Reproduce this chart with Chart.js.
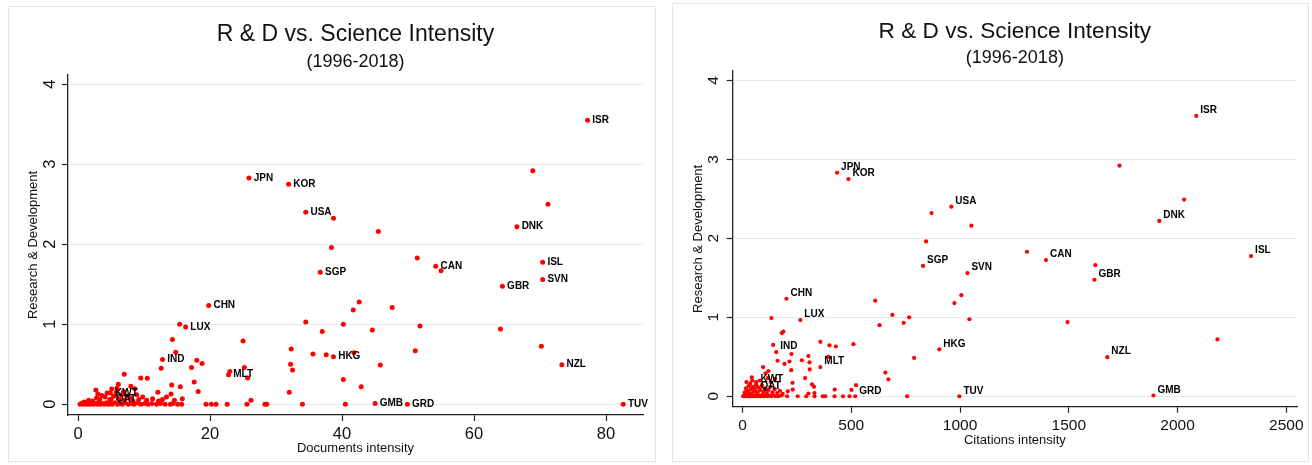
<!DOCTYPE html>
<html>
<head>
<meta charset="utf-8">
<script src="https://cdn.jsdelivr.net/npm/chart.js@4.4.0/dist/chart.umd.min.js"></script>
<style>
  html, body { margin: 0; padding: 0; background: #fff; }
  .panel { position: absolute; border: 1px solid #e4e4e4; background: #fff; }
  #p1 { left: 8px; top: 6px; width: 646px; height: 454px; }
  #p2 { left: 672px; top: 3px; width: 635px; height: 457px; }
  canvas { display: block; }
</style>
</head>
<body>
<div class="panel" id="p1"><canvas id="docsChart" width="646" height="454"></canvas></div>
<div class="panel" id="p2"><canvas id="citesChart" width="635" height="457"></canvas></div>
<script>
const mainTitle = 'R & D vs. Science Intensity';
const subTitle = '(1996-2018)';
const yTitle = 'Research & Development';

const rdTicks = [0, 1, 2, 3, 4];
const docsTicks = [0, 20, 40, 60, 80];
const citesTicks = [0, 500, 1000, 1500, 2000, 2500];

// labelled countries
const codes = ['ISR', 'JPN', 'KOR', 'USA', 'DNK', 'CAN', 'ISL', 'SVN', 'GBR', 'SGP', 'CHN', 'LUX', 'IND', 'MLT', 'HKG', 'NZL', 'TUV', 'GMB', 'GRD', 'KWT', 'QAT'];
const rd = [3.55, 2.83, 2.75, 2.40, 2.22, 1.725, 1.775, 1.56, 1.475, 1.65, 1.235, 0.965, 0.56, 0.37, 0.595, 0.495, 0, 0.01, 0, 0.14, 0.06];
const docs = [77.2, 25.9, 31.9, 34.5, 66.5, 54.2, 70.4, 70.4, 64.3, 36.7, 19.8, 16.3, 12.8, 22.8, 38.7, 73.3, 82.6, 45.0, 49.9, 4.9, 5.0];
const cites = [2086, 435, 487, 960, 1916, 1395, 2338, 1034, 1618, 830, 202, 266, 155, 358, 905, 1677, 997, 1889, 518, 64, 64];

// the other countries [intensity, R&D]
const otherDocs = [
  [68.9, 2.92], [71.2, 2.50], [38.7, 2.325], [45.5, 2.16], [38.4, 1.96], [51.4, 1.83], [55.0, 1.67],
  [42.6, 1.28], [47.6, 1.21], [41.7, 1.18], [34.5, 1.03], [40.2, 1.00], [51.8, 0.98], [44.6, 0.93], [37.0, 0.91],
  [64.0, 0.94], [70.2, 0.725], [15.4, 1.0], [25.0, 0.79], [14.3, 0.81], [14.8, 0.65], [32.3, 0.69], [35.6, 0.63],
  [37.6, 0.62], [41.8, 0.645], [51.1, 0.67], [18.0, 0.55], [18.8, 0.51], [12.6, 0.45], [17.2, 0.46], [32.2, 0.50],
  [32.5, 0.43], [25.2, 0.46], [45.8, 0.49], [23.0, 0.41], [25.7, 0.33], [40.2, 0.31], [42.9, 0.22], [32.0, 0.15],
  [18.2, 0.16], [26.2, 0.05], [7.0, 0.375], [9.5, 0.33], [10.5, 0.325], [17.6, 0.28], [6.1, 0.25], [14.2, 0.24],
  [15.5, 0.22], [12.1, 0.15], [8.0, 0.225], [8.6, 0.195], [2.7, 0.18], [5.1, 0.19], [15.8, 0.07],
  [15.7, 0], [19.4, 0], [20.2, 0], [20.9, 0], [22.6, 0], [25.6, 0], [28.3, 0], [28.6, 0], [34.0, 0], [40.5, 0],
  [0.3, 0], [0.5, 0.01], [0.8, 0], [1.0, 0.02], [1.3, 0], [1.5, 0.01], [1.8, 0], [2.0, 0.02], [2.3, 0], [2.6, 0.01],
  [2.9, 0], [3.1, 0.02], [3.4, 0], [3.7, 0.01], [4.0, 0], [4.3, 0.02], [4.6, 0], [4.9, 0.01], [5.2, 0], [5.6, 0.02],
  [6.0, 0], [6.3, 0.01], [6.7, 0], [7.1, 0.02], [7.6, 0], [8.1, 0.01], [8.5, 0], [9.0, 0.02], [9.5, 0], [10.1, 0.01],
  [10.6, 0], [11.2, 0.01], [11.9, 0], [12.5, 0.01], [13.2, 0], [14.0, 0], [14.4, 0.01], [15.1, 0],
  [0.9, 0.03], [1.6, 0.05], [2.2, 0.04], [2.8, 0.08], [3.3, 0.06], [3.6, 0.11], [4.1, 0.09], [4.4, 0.14], [4.8, 0.06],
  [5.4, 0.10], [5.8, 0.15], [6.2, 0.07], [6.6, 0.12], [7.0, 0.05], [7.4, 0.10], [7.9, 0.08], [8.3, 0.04], [9.2, 0.06],
  [9.8, 0.09], [10.4, 0.05], [11.3, 0.07], [12.2, 0.04], [12.8, 0.06], [13.4, 0.09], [14.1, 0.13], [14.6, 0.05],
  [3.0, 0.13], [6.9, 0.16], [5.9, 0.20], [8.9, 0.12]
];
const otherCites = [
  [1733, 2.92], [2030, 2.49], [869, 2.32], [1052, 2.16], [844, 1.96], [1308, 1.83], [1622, 1.66],
  [1006, 1.28], [610, 1.21], [974, 1.18], [689, 1.03], [766, 1.00], [1043, 0.975], [741, 0.93], [630, 0.90],
  [1494, 0.94], [2183, 0.72], [133, 0.99], [181, 0.80], [188, 0.82], [141, 0.65], [358, 0.69], [400, 0.645],
  [429, 0.63], [510, 0.66], [225, 0.535], [161, 0.45], [193, 0.41], [216, 0.44], [273, 0.455], [303, 0.51],
  [308, 0.43], [395, 0.50], [789, 0.485], [657, 0.30], [671, 0.215], [522, 0.14], [501, 0.08],
  [95, 0.37], [106, 0.29], [119, 0.32], [116, 0.23], [43, 0.24], [18, 0.18], [35, 0.16], [63, 0.18], [224, 0.33],
  [309, 0.34], [288, 0.23], [320, 0.15], [329, 0.12], [303, 0.035], [331, 0.04], [230, 0.17], [231, 0.085],
  [208, 0.063], [424, 0.085],
  [205, 0], [254, 0], [293, 0], [331, 0], [369, 0], [381, 0], [423, 0], [462, 0], [492, 0], [757, 0],
  [3, 0], [8, 0.01], [14, 0], [20, 0.02], [26, 0], [31, 0.01], [37, 0], [43, 0.02], [49, 0], [55, 0.01],
  [61, 0], [67, 0.02], [73, 0], [79, 0.01], [86, 0], [93, 0.02], [100, 0], [108, 0.01], [116, 0], [124, 0.01],
  [133, 0], [142, 0.01], [152, 0], [165, 0], [178, 0.01],
  [10, 0.05], [16, 0.10], [22, 0.07], [28, 0.13], [33, 0.04], [39, 0.09], [46, 0.12], [51, 0.06], [57, 0.10],
  [62, 0.15], [69, 0.05], [75, 0.11], [82, 0.08], [89, 0.14], [97, 0.06], [104, 0.10], [112, 0.04], [120, 0.08],
  [128, 0.12], [138, 0.05], [148, 0.09], [160, 0.04], [172, 0.07], [185, 0.03], [45, 0.20], [80, 0.20],
  [130, 0.18], [150, 0.22]
];

const fontFamily = '"Liberation Sans", Arial, sans-serif';

function codeLabels(xs, dx, dy) {
  return {
    id: 'codeLabels',
    afterDatasetsDraw(chart) {
      const { ctx, scales } = chart;
      ctx.save();
      ctx.font = 'bold 10px ' + fontFamily;
      ctx.fillStyle = '#000';
      ctx.textAlign = 'left';
      ctx.textBaseline = 'middle';
      codes.forEach((c, i) => {
        ctx.fillText(c, scales.x.getPixelForValue(xs[i]) + dx, scales.y.getPixelForValue(rd[i]) + dy);
      });
      ctx.restore();
    }
  };
}

function drawPanel(id, o) {
  const points = o.xs.map((v, i) => ({ x: v, y: rd[i] }))
    .concat(o.other.map(p => ({ x: p[0], y: p[1] })));

  new Chart(document.getElementById(id), {
    type: 'scatter',
    data: {
      datasets: [{
        data: points,
        backgroundColor: '#ff0000',
        borderWidth: 0,
        pointRadius: o.radius,
        pointHoverRadius: o.radius
      }]
    },
    options: {
      responsive: false,
      animation: false,
      events: [],
      layout: { padding: { left: 0, right: o.padRight, top: 0, bottom: 0 } },
      plugins: {
        legend: { display: false },
        tooltip: { enabled: false },
        title: {
          display: true, text: mainTitle, fullSize: false, color: '#111',
          font: { family: fontFamily, size: o.titleSize, weight: 'normal' },
          padding: o.titlePad
        },
        subtitle: {
          display: true, text: subTitle, fullSize: false, color: '#111',
          font: { family: fontFamily, size: 18, weight: 'normal' },
          padding: o.subPad
        }
      },
      scales: {
        x: {
          type: 'linear',
          min: o.xMin,
          max: o.xMax,
          afterFit: s => { s.height = o.xAxisHeight; },
          afterBuildTicks: s => { s.ticks = o.xTicks.map(v => ({ value: v })); },
          ticks: {
            color: '#111', padding: 4, font: { family: fontFamily, size: o.tickSize },
            callback: v => String(v)
          },
          grid: { drawOnChartArea: false, drawTicks: true, tickLength: 6, tickColor: '#222', tickWidth: 1.2 },
          border: { display: true, color: '#222', width: 1.3 },
          title: {
            display: true, text: o.xTitle, color: '#111',
            font: { family: fontFamily, size: 13 },
            padding: { top: 0, bottom: o.xTitlePad }
          }
        },
        y: {
          type: 'linear',
          min: o.yMin,
          max: o.yMax,
          afterFit: s => { s.width = o.yAxisWidth; },
          afterBuildTicks: s => { s.ticks = rdTicks.map(v => ({ value: v })); },
          ticks: {
            color: '#111', minRotation: 90, maxRotation: 90, crossAlign: 'center',
            padding: o.yTickPad, font: { family: fontFamily, size: o.tickSize },
            callback: v => String(v)
          },
          grid: { color: '#e2eaee', lineWidth: 1, drawTicks: true, tickLength: 6, tickColor: '#222', tickWidth: 1.2 },
          border: { display: true, color: '#222', width: 1.3 },
          title: {
            display: true, text: yTitle, color: '#111',
            font: { family: fontFamily, size: 13 },
            padding: { top: o.yTitlePad, bottom: 0 }
          }
        }
      }
    },
    plugins: [codeLabels(o.xs, o.labelDx, o.labelDy)]
  });
}

// Documents intensity panel
drawPanel('docsChart', {
  xs: docs, other: otherDocs, xTicks: docsTicks, xTitle: 'Documents intensity',
  xMin: -1.52, xMax: 85.6, yMin: -0.134, yMax: 4.116,
  radius: 2.5, padRight: 12, xAxisHeight: 46, yAxisWidth: 59,
  titleSize: 23, titlePad: { top: 14.2, bottom: 0 }, subPad: { top: 2.1, bottom: 2.5 },
  tickSize: 16.5, yTickPad: 7.4, xTitlePad: 5.2, yTitlePad: 16.2,
  labelDx: 4.7, labelDy: 0
});

// Citations intensity panel
drawPanel('citesChart', {
  xs: cites, other: otherCites, xTicks: citesTicks, xTitle: 'Citations intensity',
  xMin: -45, xMax: 2549, yMin: -0.132, yMax: 4.118,
  radius: 2.1, padRight: 11, xAxisHeight: 54.3, yAxisWidth: 59.7,
  titleSize: 22.6, titlePad: { top: 14.1, bottom: 0 }, subPad: { top: 2.3, bottom: 1.9 },
  tickSize: 15.5, yTickPad: 8.7, xTitlePad: 13.2, yTitlePad: 17.2,
  labelDx: 4, labelDy: -5.5
});
</script>
</body>
</html>
